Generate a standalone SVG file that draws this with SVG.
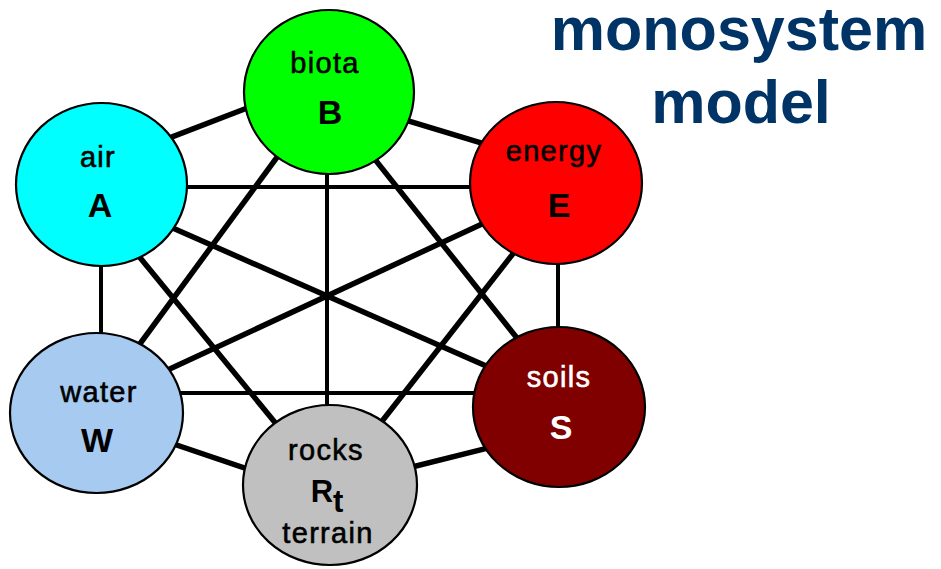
<svg xmlns="http://www.w3.org/2000/svg" width="941" height="569" viewBox="0 0 941 569">
  <style>
    .link { stroke: #000; stroke-linecap: butt; fill: none; }
    .diag { stroke-width: 5.5; }
    .ortho { stroke-width: 4; }
    .disc { stroke: #000; stroke-width: 2.2; }
    .lbl { font-family: "Liberation Sans", Arial, sans-serif; font-size: 29px; letter-spacing: 1.3px; text-anchor: middle; fill: #000; stroke: #000; stroke-width: 0.6px; }
    .sym { font-family: "Liberation Sans", Arial, sans-serif; font-size: 34px; font-weight: bold; text-anchor: middle; fill: #000; }
    .light { fill: #fff; stroke: #fff; }
    .title { font-family: "Liberation Sans", Arial, sans-serif; font-size: 61px; font-weight: bold; text-anchor: middle; fill: #003366; }
  </style>

  <!-- every pair of components is linked (complete graph) -->
  <g id="connectors">
    <!-- orthogonal links -->
    <line class="link ortho" x1="150" y1="187" x2="510" y2="187"/>
    <line class="link ortho" x1="140" y1="393" x2="520" y2="393"/>
    <line class="link ortho" x1="327" y1="140" x2="327" y2="450"/>
    <line class="link ortho" x1="101" y1="230" x2="101" y2="370"/>
    <line class="link ortho" x1="558" y1="230" x2="558" y2="360"/>
    <!-- diagonal links -->
    <line class="link diag" x1="150" y1="145.4" x2="270" y2="99.2"/>
    <line class="link diag" x1="390" y1="115.3" x2="500" y2="148.7"/>
    <line class="link diag" x1="150" y1="218" x2="520" y2="381"/>
    <line class="link diag" x1="510" y1="211" x2="140" y2="382.8"/>
    <line class="link diag" x1="130" y1="245.4" x2="300" y2="453"/>
    <line class="link diag" x1="290" y1="139.5" x2="120" y2="371"/>
    <line class="link diag" x1="360" y1="140.6" x2="530" y2="354.4"/>
    <line class="link diag" x1="525" y1="238.4" x2="365" y2="443"/>
    <line class="link diag" x1="150" y1="436" x2="280" y2="480"/>
    <line class="link diag" x1="380" y1="475" x2="520" y2="440"/>
  </g>

  <g id="node-biota">
    <ellipse class="disc" cx="329" cy="92" rx="85" ry="82" fill="#00ff00"/>
    <text class="lbl" x="325" y="73">biota</text>
    <text class="sym" x="330" y="124">B</text>
  </g>

  <g id="node-air">
    <ellipse class="disc" cx="101.5" cy="184.5" rx="85.5" ry="81.5" fill="#00ffff"/>
    <text class="lbl" x="98" y="167">air</text>
    <text class="sym" x="100" y="217">A</text>
  </g>

  <g id="node-energy">
    <ellipse class="disc" cx="556" cy="183" rx="86" ry="81" fill="#ff0000"/>
    <text class="lbl" x="554" y="161">energy</text>
    <text class="sym" x="559" y="217">E</text>
  </g>

  <g id="node-water">
    <ellipse class="disc" cx="96.5" cy="413" rx="86.5" ry="80" fill="#a6caf0"/>
    <text class="lbl" x="99" y="402">water</text>
    <text class="sym" x="97" y="452">W</text>
  </g>

  <g id="node-rocks">
    <ellipse class="disc" cx="330" cy="485" rx="87" ry="80" fill="#c0c0c0"/>
    <text class="lbl" x="326" y="460">rocks</text>
    <text class="sym" x="327" y="502" style="font-size:31px">R<tspan dy="10">t</tspan></text>
    <text class="lbl" x="328" y="543">terrain</text>
  </g>

  <g id="node-soils">
    <ellipse class="disc" cx="559" cy="407" rx="86" ry="80" fill="#800000"/>
    <text class="lbl light" x="559" y="387">soils</text>
    <text class="sym light" x="561" y="439" style="stroke:none">S</text>
  </g>

  <g id="title">
    <text class="title" x="739" y="50">monosystem</text>
    <text class="title" x="741" y="123">model</text>
  </g>
</svg>
